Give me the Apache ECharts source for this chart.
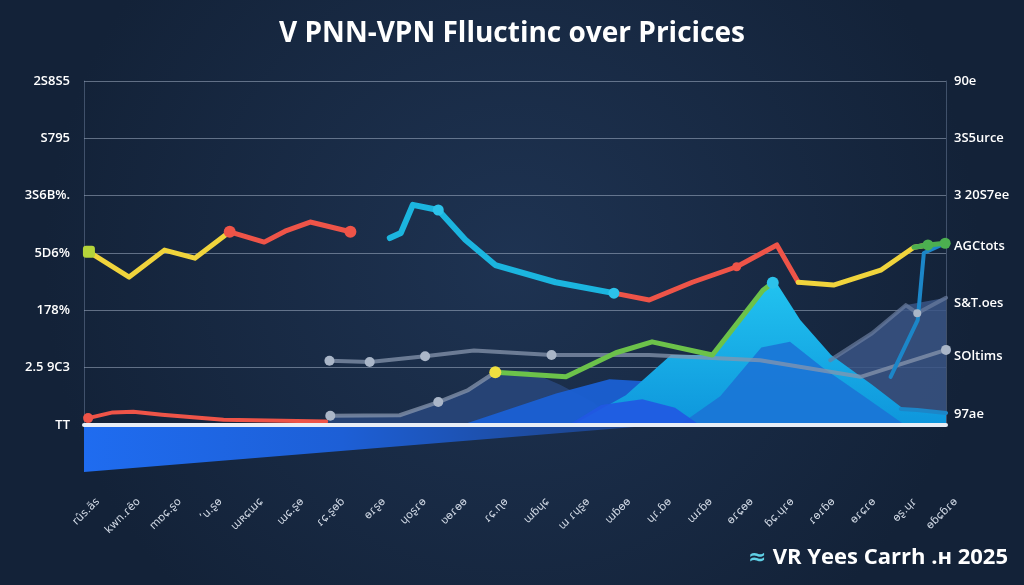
<!DOCTYPE html>
<html><head><meta charset="utf-8">
<script src="https://cdn.jsdelivr.net/npm/echarts@6/dist/echarts.min.js"></script>
<style>html,body{margin:0;padding:0;background:#172a45;}#c{width:1024px;height:585px;}</style>
</head><body><div id="c"></div>
<script>
// ---- data ----
const titleText = 'V PNN-VPN Flluctinc over Pricices';
const footerText = 'VR Yees Carrh .н 2025';
const xLabels = ['rûs.ãs','kwn.ɾẽo','mɒɕ.ʂo','ʼu.ʂɵ','ɯʀɕɯɕ','ɯɕ.ʂɵ','ɾɕ.ʂɵɓ','ɵɾʂɵ','ɥoʂɾɵ','ʋɵɾɵɵ','ɾɕ.ɳɵ','ɯɓɥɕ','ɯ ɾɥʂɵ','ɯɓɵɵ','ɥɾ.ɓɵ','ɯɾɓɵ','ɵɾɕɵɵ','ɓɕ.ɥɾɵ','ɾɵɾɓɵ','ɵɾɕɾɵ','ɵʂ.ɥɾ','ɵɓɕɓɾɵ'];
const yLeftLabels = ['TT','2.5 9C3','178%','5D6%','3S6B%.','S795','2S8S5'];
const yRightLabels = ['97ae','SOltims','S&T.oes','AGCtots','3 20S7ee','3S5urce','90e'];

// line series: x positions and values
const yellowLX = [0.12, 1.10, 1.96, 2.70, 3.55];
const yellowLY = [3.02, 2.58, 3.05, 2.91, 3.37];
const redTopX = [3.55, 4.39, 4.9, 5.51, 6.49];
const redTopY = [3.37, 3.19, 3.38, 3.54, 3.37];
const cyanX = [7.45, 7.72, 8.01, 8.63, 9.29, 10.02, 11.49, 12.91];
const cyanY = [3.26, 3.35, 3.84, 3.75, 3.23, 2.79, 2.49, 2.30];
const redMidX = [12.91, 13.77, 14.82, 15.90, 16.88, 17.40];
const redMidY = [2.30, 2.18, 2.49, 2.76, 3.14, 2.49];
const yellowRX = [17.40, 18.26, 19.41, 20.22, 20.56];
const yellowRY = [2.49, 2.44, 2.70, 3.10, 3.14];
const greenEndX = [20.22, 20.56, 20.98];
const greenEndY = [3.10, 3.14, 3.17];
const greenX = [10.02, 11.74, 12.96, 13.84, 15.31, 16.54, 16.78];
const greenY = [0.92, 0.84, 1.26, 1.45, 1.22, 2.35, 2.48];
const redLowX = [0.1, 0.7, 1.2, 1.9, 3.4, 5.9];
const redLowY = [0.12, 0.22, 0.23, 0.18, 0.09, 0.06];
const greyUpX = [5.98, 6.96, 8.31, 9.5, 11.39, 13.77, 16.47, 18.92, 21.0];
const greyUpY = [1.12, 1.10, 1.20, 1.30, 1.22, 1.22, 1.13, 0.84, 1.31];
const greyLowX = [6.0, 7.69, 8.63, 9.36, 10.02];
const greyLowY = [0.16, 0.17, 0.40, 0.61, 0.92];
const greyRX = [18.18, 19.2, 20.02, 20.3, 21.0];
const greyRY = [1.13, 1.6, 2.09, 1.95, 2.22];
const blueRiseX = [19.65, 20.31, 20.46, 20.98];
const blueRiseY = [0.84, 1.83, 3.00, 3.17];
const blueLowX = [19.9, 20.3, 21.0];
const blueLowY = [0.28, 0.26, 0.21];

// area shapes
const slateLX = [5.9, 6.0, 7.7, 8.6, 9.4, 10.0, 10.8, 11.6, 12.4, 13.0];
const slateLY = [0, 0.16, 0.17, 0.40, 0.61, 0.92, 0.95, 0.70, 0.40, 0];
const slateRX = [17.4, 18.2, 19.2, 20.0, 21.0];
const slateRY = [0, 1.13, 1.60, 2.09, 2.22];
const blueAX = [9.2, 11.5, 12.8, 14.0, 15.5, 16.9, 17.9, 19.4, 20.3];
const blueAY = [0, 0.55, 0.80, 0.75, 0.96, 1.60, 0.85, 0.45, 0];
const cyanAX = [11.9, 13.2, 14.3, 15.3, 16.8, 17.45, 18.2, 19.2, 20.0, 21.0];
const cyanAY = [0, 0.52, 1.22, 1.22, 2.56, 1.83, 1.22, 0.70, 0.26, 0.21];
const blueBX = [14.5, 15.5, 16.5, 17.2, 18.0, 19.0, 20.0];
const blueBY = [0, 0.50, 1.35, 1.45, 1.00, 0.50, 0];
const blueCX = [11.8, 12.6, 13.6, 14.4, 15.0];
const blueCY = [0, 0.35, 0.45, 0.30, 0];
const wedgeX = [0, 14];
const wedgeY = [-0.82, 0];

const zip = (xs, ys) => xs.map((x, i) => [x, ys[i]]);
function withMarks(xs, ys, marks, color, size, shape, colors) {
  return xs.map((x, i) => marks.indexOf(i) >= 0
    ? { value: [x, ys[i]], symbol: shape || 'circle', symbolSize: size,
        itemStyle: { color: (colors && colors[marks.indexOf(i)]) || color } }
    : { value: [x, ys[i]], symbol: 'none' });
}
function lineS(data, color, width, opacity, z) {
  return { type: 'line', xAxisIndex: 0, yAxisIndex: 0, data: data, symbol: 'none', z: z || 5,
    lineStyle: { color: color, width: width, opacity: opacity == null ? 1 : opacity, cap: 'round', join: 'round' },
    itemStyle: { color: color }, animation: false, silent: true };
}
function areaS(xs, ys, color, opacity, xi, yi, origin) {
  return { type: 'line', xAxisIndex: xi || 0, yAxisIndex: yi || 0, data: zip(xs, ys), symbol: 'none', z: 2,
    lineStyle: { width: 0 }, areaStyle: { color: color, opacity: opacity, origin: origin || 'auto' },
    animation: false, silent: true };
}

const chart = echarts.init(document.getElementById('c'));
const gridLeft = 84, gridRight = 78;
const option = {
  backgroundColor: new echarts.graphic.RadialGradient(0.5, 0.45, 0.8, [
    { offset: 0, color: '#1e3352' }, { offset: 1, color: '#132238' }]),
  animation: false,
  title: { text: titleText, left: 'center', top: 15,
    textStyle: { color: '#ffffff', fontSize: 28, fontWeight: 'bold', fontFamily: 'Open Sans' } },
  graphic: [
    { type: 'text', right: 16, top: 547, style: { text: footerText, fill: '#ffffff',
      font: 'bold 22px "Open Sans"' } },
    { type: 'text', left: 748, top: 547, style: { text: '≈', fill: '#5fd0e6', font: 'bold 22px "DejaVu Sans"' } }
  ],
  grid: [
    { left: gridLeft, right: gridRight, top: 81, height: 344 },
    { left: gridLeft, right: gridRight, top: 425, height: 57.33 },
    { left: gridLeft + 14, right: gridRight - 10, top: 425, height: 63 }
  ],
  xAxis: [
    { gridIndex: 0, type: 'value', min: 0, max: 21, interval: 1,
      axisLine: { show: true, onZero: false, lineStyle: { color: '#e9eef6', width: 4 } },
      axisTick: { show: false }, axisLabel: { show: false }, splitLine: { show: false }, z: 10 },
    { gridIndex: 1, type: 'value', min: 0, max: 21, show: false },
    { gridIndex: 2, type: 'value', min: 0, max: 21, interval: 1,
      axisLine: { show: false }, axisTick: { show: false }, splitLine: { show: false },
      axisLabel: { rotate: 45, margin: 12, color: '#d0d8e4', fontSize: 11, fontFamily: 'DejaVu Sans',
        formatter: v => xLabels[Math.round(v)] || '' } }
  ],
  yAxis: [
    { gridIndex: 0, type: 'value', min: 0, max: 6, interval: 1,
      axisLine: { show: true, lineStyle: { color: 'rgba(150,170,200,0.35)', width: 1 } },
      axisTick: { show: false },
      splitLine: { lineStyle: { color: 'rgba(190,205,225,0.45)', width: 1 } },
      axisLabel: { margin: 14, color: '#ffffff', fontSize: 13, fontWeight: 600, fontFamily: 'Open Sans',
        formatter: v => yLeftLabels[Math.round(v)] || '' } },
    { gridIndex: 0, type: 'value', min: 0, max: 6, interval: 1, position: 'right',
      axisLine: { show: true, lineStyle: { color: 'rgba(150,170,200,0.35)', width: 1 } },
      axisTick: { show: false }, splitLine: { show: false },
      axisLabel: { margin: 8, color: '#ffffff', fontSize: 13, fontWeight: 600, fontFamily: 'Open Sans',
        formatter: v => { const i = Math.round(v); const t = yRightLabels[i] || '';
          return i <= 1 ? '{b|' + t + '}' : (i <= 3 ? '{a|' + t + '}' : t); },
        rich: { a: { color: '#ffffff', fontSize: 13, fontWeight: 600, fontFamily: 'Open Sans', padding: [0, 0, 14, 0] },
                b: { color: '#ffffff', fontSize: 13, fontWeight: 600, fontFamily: 'Open Sans', padding: [0, 0, 22, 0] } } } },
    { gridIndex: 1, type: 'value', min: -1, max: 0, show: false },
    { gridIndex: 2, type: 'value', min: 0, max: 1, show: false }
  ],
  series: [
    areaS(wedgeX, wedgeY, new echarts.graphic.LinearGradient(0, 0, 1, 0, [
      { offset: 0, color: '#1f6cf0' }, { offset: 0.45, color: '#1d5fd6' }, { offset: 1, color: '#1d3f7e' }]), 1, 1, 2, 'end'),
    areaS(slateLX, slateLY, '#28467a', 0.9),
    areaS(slateRX, slateRY, '#3a5585', 0.85),
    areaS(blueAX, blueAY, '#1a60d4', 0.95),
    areaS(cyanAX, cyanAY, new echarts.graphic.LinearGradient(0, 0, 0, 1, [
      { offset: 0, color: '#22c4f0' }, { offset: 1, color: '#0e96dc' }]), 1),
    areaS(blueBX, blueBY, '#1b74d6', 0.9),
    areaS(blueCX, blueCY, '#2158e2', 0.9),
    lineS(withMarks(greyUpX, greyUpY, [0, 1, 2, 4, 8], '#aab6c8', 10), '#8796ae', 4, 0.75),
    lineS(withMarks(greyLowX, greyLowY, [0, 2], '#aab6c8', 10), '#8796ae', 4, 0.75),
    lineS(withMarks(greyRX, greyRY, [3], '#aab6c8', 8), '#6b7ea0', 4, 0.7),
    lineS(withMarks(blueRiseX, blueRiseY, [], '#1c86c8', 8), '#1c86c8', 4, 1),
    lineS(withMarks(blueLowX, blueLowY, [], '#1c86c8', 8), '#1c86c8', 4, 1),
    lineS(withMarks(redLowX, redLowY, [0], '#ee5448', 10), '#ee5448', 4, 1),
    lineS(withMarks(yellowLX, yellowLY, [0], '#b5d43a', 12, 'roundRect'), '#f0d43c', 5, 1, 6),
    lineS(withMarks(redTopX, redTopY, [0, 4], '#ee5448', 12), '#ee5448', 5, 1, 6),
    lineS(withMarks(cyanX, cyanY, [3, 7], '#2cc2ea', 11), '#1bb5df', 6, 1, 6),
    lineS(withMarks(redMidX, redMidY, [3], '#ee5448', 9), '#ee5448', 5, 1, 6),
    lineS(withMarks(yellowRX, yellowRY, [], '#f0d43c', 9), '#f0d43c', 5, 1, 6),
    lineS(withMarks(greenEndX, greenEndY, [1, 2], '#4caf50', 11), '#4caf50', 5, 1, 6),
    lineS(withMarks(greenX, greenY, [0, 6], '#f0e040', 12, 'circle', ['#f0e040', '#2cc2ea']), '#6cc24a', 5, 1, 6)
  ]
};
chart.setOption(option);
</script></body></html>
